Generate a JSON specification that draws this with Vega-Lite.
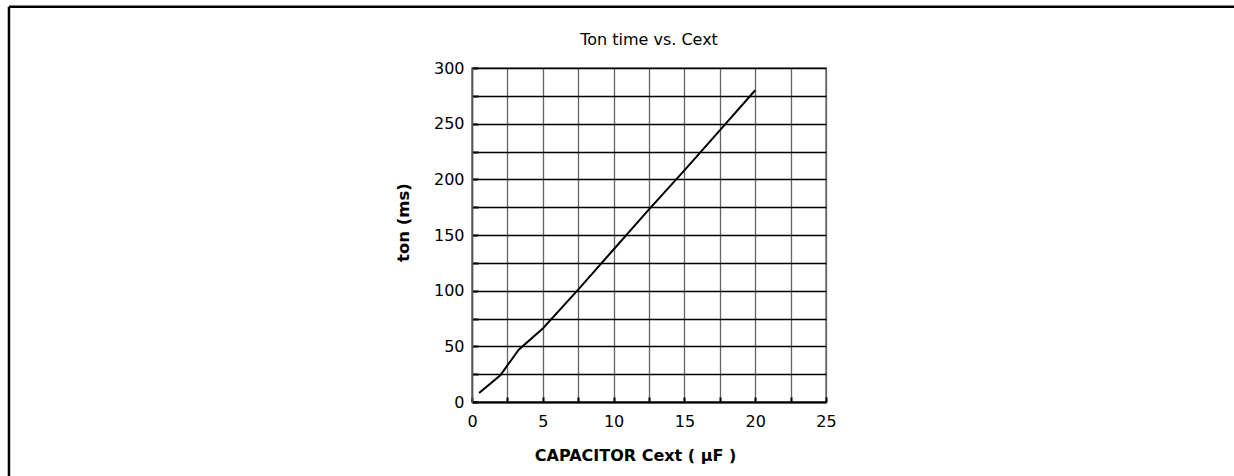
{
  "$schema": "https://vega.github.io/schema/vega-lite/v6.json",
  "width": 354,
  "height": 334,
  "autosize": {"type": "none"},
  "padding": {"left": 472, "top": 68, "right": 408, "bottom": 74},
  "background": "white",
  "config": {
    "font": "DejaVu Sans",
    "view": {"stroke": "#777777", "strokeWidth": 1.5},
    "axis": {"labelFont": "DejaVu Sans", "titleFont": "DejaVu Sans"}
  },
  "datasets": {
    "curve": [
      {"c": 0.5, "t": 8},
      {"c": 2.0, "t": 24},
      {"c": 3.3, "t": 47},
      {"c": 5.0, "t": 66},
      {"c": 7.5, "t": 101},
      {"c": 10.0, "t": 137},
      {"c": 12.5, "t": 173},
      {"c": 15.0, "t": 208},
      {"c": 17.5, "t": 244},
      {"c": 20.0, "t": 280}
    ],
    "frame": [
      {"c": -32.7, "c2": 60, "t": 355.1, "t2": 355.1},
      {"c": -32.7, "c2": -32.7, "t": -120, "t2": 355.1}
    ]
  },
  "layer": [
    {
      "data": {"name": "curve"},
      "mark": {"type": "line", "color": "#000000", "strokeWidth": 2},
      "encoding": {
        "x": {
          "field": "c",
          "type": "quantitative",
          "scale": {"domain": [0, 25], "nice": false, "zero": false},
          "axis": {
            "title": "CAPACITOR Cext ( μF )",
            "titleFontSize": 16,
            "titleFontWeight": "bold",
            "titleColor": "#000000",
            "titleX": 163,
            "titleY": 53,
            "titleAlign": "center",
            "titleBaseline": "middle",
            "values": [0, 2.5, 5, 7.5, 10, 12.5, 15, 17.5, 20, 22.5, 25],
            "tickCount": 100,
            "format": "d",
            "labelExpr": "datum.value % 5 === 0 ? datum.label : ''",
            "labelFontSize": 16,
            "labelColor": "#000000",
            "labelPadding": 16,
            "labelFlush": false,
            "labelOverlap": false,
            "ticks": true,
            "tickSize": -5,
            "tickColor": "#000000",
            "tickWidth": 2,
            "domainColor": "#000000",
            "domainWidth": 2,
            "grid": true,
            "gridColor": "#666666",
            "gridWidth": 1.3,
            "gridOpacity": 1
          }
        },
        "y": {
          "field": "t",
          "type": "quantitative",
          "scale": {"domain": [0, 300], "nice": false, "zero": false},
          "axis": {
            "title": "ton (ms)",
            "titleFontSize": 16.5,
            "titleFontWeight": "bold",
            "titleColor": "#000000",
            "titleX": -69,
            "titleY": 154,
            "titleAlign": "center",
            "titleBaseline": "middle",
            "values": [0, 25, 50, 75, 100, 125, 150, 175, 200, 225, 250, 275, 300],
            "tickCount": 100,
            "format": "d",
            "labelExpr": "datum.value % 50 === 0 ? datum.label : ''",
            "labelFontSize": 16,
            "labelColor": "#000000",
            "labelPadding": 14,
            "labelFlush": false,
            "labelOverlap": false,
            "ticks": true,
            "tickSize": -6,
            "tickColor": "#000000",
            "tickWidth": 2,
            "domainColor": "#555555",
            "domainWidth": 1.5,
            "grid": true,
            "gridColor": "#000000",
            "gridWidth": 1.5,
            "gridOpacity": 1
          }
        }
      }
    },
    {
      "data": {"name": "frame"},
      "mark": {"type": "rule", "color": "#000000", "strokeWidth": 2.5, "clip": false},
      "encoding": {
        "x": {"field": "c", "type": "quantitative"},
        "x2": {"field": "c2"},
        "y": {"field": "t", "type": "quantitative"},
        "y2": {"field": "t2"}
      }
    },
    {
      "data": {"values": [{"label": "Ton time vs. Cext", "c": 12.5, "t": 325}]},
      "mark": {"type": "text", "fontSize": 16, "font": "DejaVu Sans", "fontWeight": 500, "color": "#000000", "baseline": "middle", "align": "center", "clip": false},
      "encoding": {
        "x": {"field": "c", "type": "quantitative"},
        "y": {"field": "t", "type": "quantitative"},
        "text": {"field": "label"}
      }
    }
  ]
}
